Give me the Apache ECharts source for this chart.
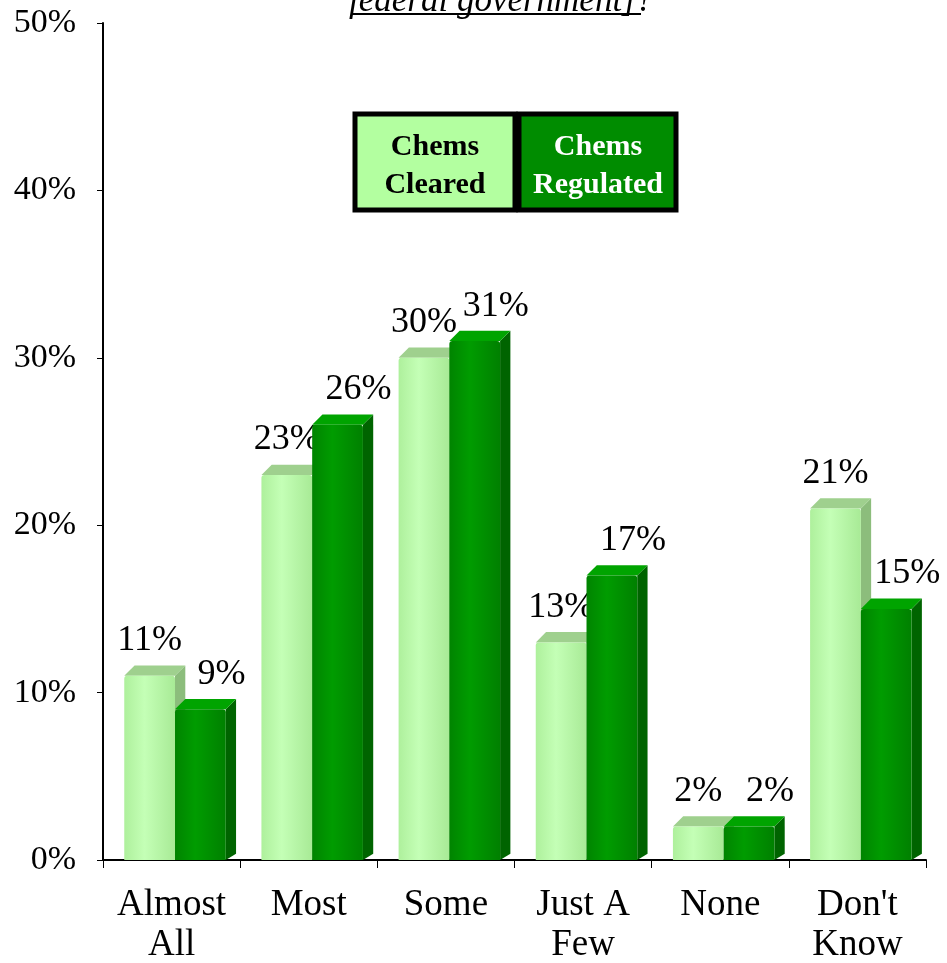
<!DOCTYPE html>
<html>
<head>
<meta charset="utf-8">
<script src="https://cdn.jsdelivr.net/npm/echarts@6/dist/echarts.min.js"></script>
<style>
  html, body { margin: 0; padding: 0; background: #fff; }
  #main { width: 947px; height: 963px; }
</style>
</head>
<body>
<div id="main"></div>
<script>
// data
var categories = ['Almost\nAll', 'Most', 'Some', 'Just A\nFew', 'None', 'Don\'t\nKnow'];
var chemsCleared = [11, 23, 30, 13, 2, 21];
var chemsRegulated = [9, 26, 31, 17, 2, 15];
var seriesNames = ['Chems Cleared', 'Chems Regulated'];

var FONT = '"Liberation Serif", "DejaVu Serif", serif';

// front / top / side colours for each series
var looks = [
  { front: ['#aef09c', '#c4ffb6', '#a8ea96'], top: '#9fd08e', side: '#8cbd7c', label: 0 },
  { front: ['#008400', '#009c00', '#008000'], top: '#00a400', side: '#006400', label: 21 }
];

function makeRender(si)
{
  var look = looks[si];
  return function(params, api)
  {
    var cat = api.value(0);
    var v = api.value(1);
    var base = api.coord([cat, 0]);
    var top = api.coord([cat, v]);
    var cw = api.size([1, 0])[0];
    var bw = cw * 0.37;
    var depth = cw * 0.075;
    var x0 = base[0] - cw * 0.345 + si * bw;
    var x1 = x0 + bw;
    var yb = base[1];
    var yt = top[1];

    return {
      type: 'group',
      children: [
        {
          type: 'polygon',
          shape: { points: [[x1, yt], [x1 + depth, yt - depth], [x1 + depth, yb - depth + 4], [x1, yb]] },
          style: { fill: look.side }
        },
        {
          type: 'polygon',
          shape: { points: [[x0, yt], [x0 + depth, yt - depth], [x1 + depth, yt - depth], [x1, yt]] },
          style: { fill: look.top }
        },
        {
          type: 'rect',
          shape: { x: x0, y: yt, width: bw, height: yb - yt, r: [3, 3, 0, 0] },
          style: {
            fill: new echarts.graphic.LinearGradient(0, 0, 1, 0, [
              { offset: 0, color: look.front[0] },
              { offset: 0.4, color: look.front[1] },
              { offset: 1, color: look.front[2] }
            ])
          }
        },
        {
          type: 'text',
          x: (x0 + x1) / 2 + look.label,
          y: yt - 35,
          style: {
            text: v + '%',
            font: '36px ' + FONT,
            fill: '#000',
            align: 'center',
            verticalAlign: 'middle'
          }
        }
      ]
    };
  };
}

function toPairs(arr)
{
  return arr.map(function(v, i) { return [i, v]; });
}

var chart = echarts.init(document.getElementById('main'));

var options =
{
  animation: false,
  grid: { left: 103, right: 21, top: 23, bottom: 103, outerBoundsMode: 'none', containLabel: false },
  xAxis:
  {
    type: 'category',
    data: categories,
    axisLine: { lineStyle: { color: '#000', width: 2 } },
    axisTick: { show: true, length: 8, lineStyle: { color: '#000', width: 1 } },
    axisLabel: { color: '#000', fontFamily: FONT, fontSize: 37, lineHeight: 40, margin: 25, interval: 0 }
  },
  yAxis:
  {
    type: 'value',
    min: 0,
    max: 50,
    interval: 10,
    axisLine: { show: true, lineStyle: { color: '#000', width: 2 } },
    axisTick: { show: true, length: 6, lineStyle: { color: '#000', width: 1 } },
    splitLine: { show: false },
    axisLabel: { color: '#000', fontFamily: FONT, fontSize: 34, margin: 27, formatter: '{value}%' }
  },
  series:
  [
    { name: seriesNames[0], type: 'custom', renderItem: makeRender(0), encode: { x: 0, y: 1 }, data: toPairs(chemsCleared), clip: false },
    { name: seriesNames[1], type: 'custom', renderItem: makeRender(1), encode: { x: 0, y: 1 }, data: toPairs(chemsRegulated), clip: false }
  ],
  graphic:
  [
    {
      type: 'text', left: 349, top: -16,
      style: { text: 'federal government]?', font: 'italic 35px ' + FONT, fill: '#000' }
    },
    {
      type: 'line', shape: { x1: 351, y1: 14, x2: 641, y2: 14 },
      style: { stroke: '#000', lineWidth: 2 }
    },
    {
      type: 'rect', shape: { x: 355, y: 114, width: 160, height: 96 },
      style: { fill: '#b3ffa0', stroke: '#000', lineWidth: 5 }
    },
    {
      type: 'text', x: 435, y: 166,
      style: { text: 'Chems\nCleared', font: 'bold 30px ' + FONT, lineHeight: 38, fill: '#000', align: 'center', verticalAlign: 'middle' }
    },
    {
      type: 'rect', shape: { x: 519, y: 114, width: 157, height: 96 },
      style: { fill: '#008c00', stroke: '#000', lineWidth: 5 }
    },
    {
      type: 'text', x: 598, y: 166,
      style: { text: 'Chems\nRegulated', font: 'bold 30px ' + FONT, lineHeight: 38, fill: '#fff', align: 'center', verticalAlign: 'middle' }
    }
  ]
};

chart.setOption(options);
</script>
</body>
</html>
